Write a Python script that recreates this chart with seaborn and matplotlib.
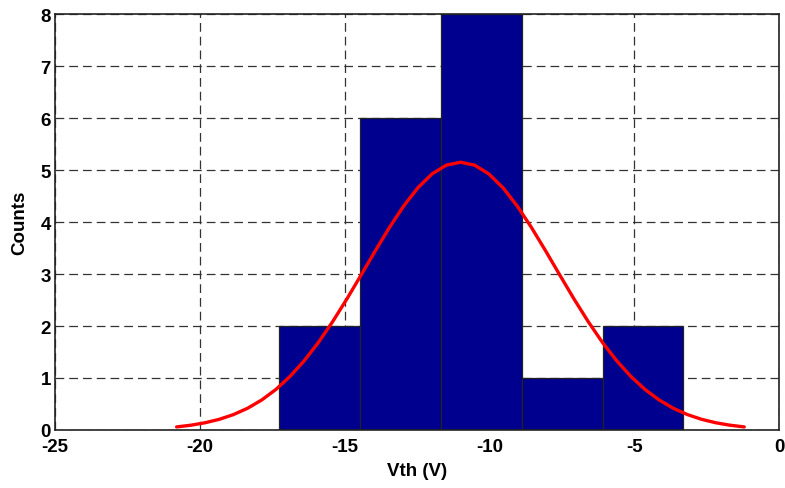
import matplotlib
matplotlib.use("Agg")
import matplotlib.pyplot as plt
import seaborn as sns
import numpy as np
import pandas as pd

# Histogram data
bin_edges = [-17.25, -14.46, -11.67, -8.88, -6.09, -3.30]
bin_counts = [2, 6, 8, 1, 2]

# Fitted normal curve points
curve_x = [-20.80, -20.31, -19.82, -19.33, -18.84, -18.35, -17.86, -17.37, -16.88, -16.39,
           -15.90, -15.41, -14.92, -14.43, -13.94, -13.45, -12.96, -12.47, -11.98, -11.49,
           -11.00, -10.51, -10.02, -9.53, -9.04, -8.55, -8.06, -7.57, -7.08, -6.59,
           -6.10, -5.61, -5.12, -4.63, -4.14, -3.65, -3.16, -2.67, -2.18, -1.69, -1.20]
curve_y = [0.059, 0.092, 0.139, 0.205, 0.296, 0.418, 0.578, 0.781, 1.033, 1.335,
           1.687, 2.086, 2.521, 2.981, 3.446, 3.896, 4.308, 4.658, 4.925, 5.093,
           5.150, 5.093, 4.925, 4.658, 4.308, 3.896, 3.446, 2.981, 2.521, 2.086,
           1.687, 1.335, 1.033, 0.781, 0.578, 0.418, 0.296, 0.205, 0.139, 0.092, 0.059]

x_ticks = [-25, -20, -15, -10, -5, 0]
y_ticks = [0, 1, 2, 3, 4, 5, 6, 7, 8]

sns.set_style("white")
plt.rcParams['font.family'] = ['Liberation Sans', 'DejaVu Sans']
plt.rcParams['font.weight'] = 'bold'
plt.rcParams['text.color'] = 'black'
plt.rcParams['axes.labelcolor'] = 'black'
plt.rcParams['xtick.color'] = 'black'
plt.rcParams['ytick.color'] = 'black'

W, H = 785, 489
fig = plt.figure(figsize=(W / 100, H / 100), dpi=100)
ax = fig.add_axes([55 / W, (H - 431) / H, (779 - 55) / W, (431 - 15) / H])

centers = [(bin_edges[i] + bin_edges[i + 1]) / 2 for i in range(len(bin_counts))]
df = pd.DataFrame({"Vth": centers, "n": bin_counts})
sns.histplot(data=df, x="Vth", weights="n", bins=bin_edges, ax=ax,
             color="#00008F", edgecolor="#222222", linewidth=0.9, alpha=1.0, zorder=2)

cdf = pd.DataFrame({"x": curve_x, "y": curve_y})
sns.lineplot(data=cdf, x="x", y="y", ax=ax, color="#FF0000", linewidth=2.4, zorder=3, sort=False)

ax.set_xlim(-25, 0)
ax.set_ylim(0, 8)
ax.set_xticks(x_ticks)
ax.set_yticks(y_ticks)
ax.set_xticklabels([str(t) for t in x_ticks], fontsize=13.5, fontweight='bold', color='black')
ax.set_yticklabels([str(t) for t in y_ticks], fontsize=13.5, fontweight='bold', color='black')
ax.tick_params(axis='x', direction='in', length=0, pad=6)
ax.tick_params(axis='y', direction='in', length=0, pad=3)

ax.grid(True, color='#333333', linestyle=(0, (7, 4)), linewidth=0.9)
ax.set_axisbelow(True)
for s in ax.spines.values():
    s.set_color('#222222')
    s.set_linewidth(1.2)
    s.set_visible(True)

ax.set_xlabel("Vth (V)", fontsize=13.5, fontweight='bold', labelpad=5, color='black')
ax.set_ylabel("Counts", fontsize=13.5, fontweight='bold', labelpad=9, color='black')

fig.savefig("out.png", dpi=100)
